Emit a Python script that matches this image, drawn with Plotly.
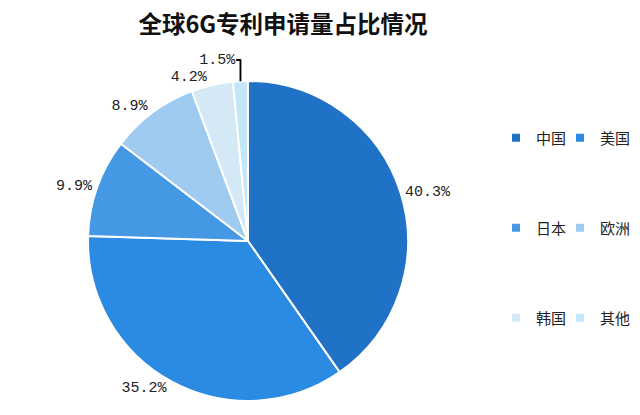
import plotly.graph_objects as go

labels = ["中国", "美国", "日本", "欧洲", "韩国", "其他"]
values = [40.3, 35.2, 9.9, 8.9, 4.2, 1.5]
colors = ["#1f72c6", "#2b8ae2", "#4598e4", "#9fcbf1", "#d5e8f5", "#c3e6f9"]
title_text = "全球6G专利申请量占比情况"

W, H = 640, 415

def fx(px):
    return px / W

def fy(py):
    return 1 - py / H

fig = go.Figure()
fig.add_trace(go.Pie(
    labels=labels, values=values, sort=False, direction="clockwise", rotation=0,
    marker=dict(colors=colors, line=dict(color="white", width=2)),
    textposition="outside", texttemplate="%{value:.1f}%",
    textfont=dict(family="Liberation Mono", size=15, color=["#222"] * len(values)),
    showlegend=False, hoverinfo="label+value",
    domain=dict(x=[fx(88), fx(408)], y=[fy(401), fy(81)]),
))

# one legend per entry: 3 rows x 2 columns
legend_ids = ["legend", "legend2", "legend3", "legend4", "legend5", "legend6"]
for lab, col, lg in zip(labels, colors, legend_ids):
    fig.add_trace(go.Scatter(
        x=[None], y=[None], mode="markers", name=lab, legend=lg,
        marker=dict(symbol="square", size=8, color=col),
    ))

col_x = [496, 560]
row_y = [138, 228, 318]
leg_common = dict(orientation="h", xanchor="left", yanchor="middle",
                  font=dict(family="Noto Sans CJK SC", size=15, color="#222"),
                  bgcolor="rgba(0,0,0,0)", itemwidth=30)
legends = {}
for i, lg in enumerate(legend_ids):
    legends[lg] = dict(x=fx(col_x[i % 2]), y=fy(row_y[i // 2]), **leg_common)

fig.update_layout(
    width=W, height=H,
    margin=dict(l=0, r=0, t=0, b=0),
    paper_bgcolor="white", plot_bgcolor="white",
    title=dict(text="<b>" + title_text + "</b>", x=fx(283), xanchor="center",
               y=fy(25), yanchor="middle",
               font=dict(family="Noto Sans CJK SC", size=23.5, color="#111")),
    xaxis=dict(visible=False), yaxis=dict(visible=False),
    **legends,
)

fig.write_html("out.html", config={"displayModeBar": False},
               post_script="document.body.style.margin='0';document.body.style.overflow='hidden';")
